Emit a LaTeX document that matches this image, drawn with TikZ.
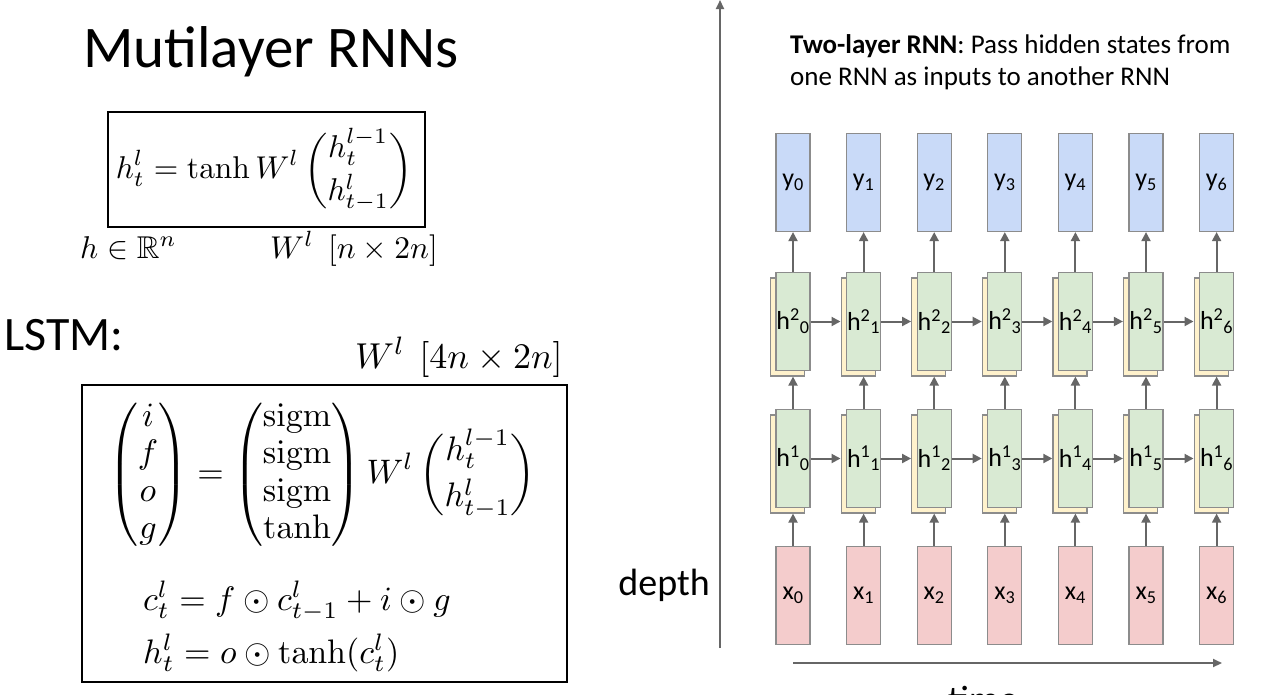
\documentclass[tikz,border=0pt]{standalone}
\usepackage{amsmath,amssymb}
\usepackage{graphicx}
\usepackage[no-math]{fontspec}
\setmainfont{Carlito}
\usetikzlibrary{arrows.meta}
\definecolor{boxgray}{HTML}{8C8C8C}
\definecolor{arrgray}{HTML}{666666}
\definecolor{yblue}{HTML}{C9DAF8}
\definecolor{hgreen}{HTML}{D9EAD3}
\definecolor{hyellow}{HTML}{FFF2CC}
\definecolor{xpink}{HTML}{F4CCCC}
\begin{document}
\begin{tikzpicture}[x=1pt,y=-1pt,
  cell/.style={draw=boxgray, line width=1.2pt, minimum width=34pt, minimum height=98pt, inner sep=0pt, font=\fontsize{26}{30}\selectfont},
  yb/.style={cell, fill=yblue},
  gb/.style={cell, fill=hgreen},
  shadowbox/.style={cell, fill=hyellow},
  xb/.style={cell, fill=xpink},
  conn/.style={draw=arrgray, line width=2pt, -{Triangle[length=9pt,width=9pt]}},
  axis/.style={draw=arrgray, line width=2pt, -{Triangle[length=9pt,width=8pt]}},
  eqbox/.style={draw=black, line width=2pt, inner sep=0pt},
  bigtext/.style={font=\fontsize{59}{63}\selectfont, inner sep=0pt},
  midtext/.style={font=\fontsize{38}{42}\selectfont, inner sep=0pt},
  mathtxt/.style={inner sep=0pt}
]
\useasboundingbox (0,0) rectangle (1287,694);
\fill[white] (0,0) rectangle (1287,694);

% ---------- left side ----------
\node[bigtext, anchor=base west] (title) at (83,67) {Mutilayer RNNs};
\node[eqbox, minimum width=317pt, minimum height=115pt] (box1) at (266.5,169.5) {};
\node[mathtxt] (eq1) at (264,170)
  {\scalebox{3.15}{$\displaystyle h_t^l = \tanh W^l\, \dbinom{h_t^{l-1}}{h_{t-1}^l}$}};
\node[mathtxt, anchor=base west] (hdim) at (80,258) {\scalebox{3.15}{$h \in \mathbb{R}^n$}};
\node[mathtxt, anchor=base west] (wdim) at (270,258) {\scalebox{3.15}{$W^l\ \ [n \times 2n]$}};

\node[font=\fontsize{48}{52}\selectfont, inner sep=0pt, anchor=base west] (lstm) at (4,350) {LSTM:};
\node[mathtxt, anchor=base west] (wdim2) at (355,368) {\scalebox{3.6}{$W^l\ \,[4n \times 2n]$}};
\node[eqbox, minimum width=485pt, minimum height=297pt] (box2) at (324.5,533.5) {};
\node[mathtxt] (lstmeq) at (322,475) {\scalebox{3.4}{\renewcommand{\arraystretch}{0.92}$\displaystyle
  \begin{pmatrix} i\\ f\\ o\\ g\end{pmatrix} =
  \begin{pmatrix} \mathrm{sigm}\\ \mathrm{sigm}\\ \mathrm{sigm}\\ \tanh\end{pmatrix}
  W^l\, \dbinom{h_t^{l-1}}{h_{t-1}^l}$}};
\node[mathtxt, anchor=base west] (ceq) at (143,610) {\scalebox{3.4}{$c_t^l = f \odot c_{t-1}^l + i \odot g$}};
\node[mathtxt, anchor=base west] (heq) at (143,663) {\scalebox{3.4}{$h_t^l = o \odot \tanh(c_t^l)$}};

% ---------- right side ----------
\node[anchor=base west, align=left, font=\fontsize{27}{32}\selectfont, inner sep=0pt] (caption) at (790,85)
  {\textbf{Two-layer RNN}: Pass hidden states from\\one RNN as inputs to another RNN};

\coordinate (dbot) at (720,648);
\coordinate (dtop) at (720,0);
\draw[axis] (dbot) -- (dtop);
\node[midtext, anchor=base east] (depth) at (710,595) {depth};
\coordinate (tstart) at (793,663);
\coordinate (tend) at (1222,663);
\draw[axis] (tstart) -- (tend);
\node[midtext, anchor=base] (time) at (983,712) {time};

\foreach \i in {0,...,6} {
  \pgfmathsetmacro\cx{793+70.6*\i}
  \node[yb] (y\i) at (\cx,182.5) {\raisebox{-5pt}{y\textsubscript{\i}}};
  \node[shadowbox] (h2s\i) at (\cx-5.5,327) {};
  \node[gb] (h2\i) at (\cx,321.5) {h\textsuperscript{2}\textsubscript{\i}};
  \node[shadowbox] (h1s\i) at (\cx-5.5,464) {};
  \node[gb] (h1\i) at (\cx,458.5) {h\textsuperscript{1}\textsubscript{\i}};
  \node[xb] (x\i) at (\cx,595.5) {\raisebox{-5pt}{x\textsubscript{\i}}};
}
\foreach \i in {0,...,6} {
  \draw[conn] (x\i.north) -- (x\i.north |- h1s\i.south);
  \draw[conn] (h1\i.north) -- (h1\i.north |- h2s\i.south);
  \draw[conn] (h2\i.north) -- (y\i.south);
}
\foreach \i [evaluate=\i as \j using int(\i+1)] in {0,...,5} {
  \draw[conn] (h1\i.east) -- (h1\i.east -| h1s\j.west);
  \draw[conn] (h2\i.east) -- (h2\i.east -| h2s\j.west);
}
\end{tikzpicture}
\end{document}
